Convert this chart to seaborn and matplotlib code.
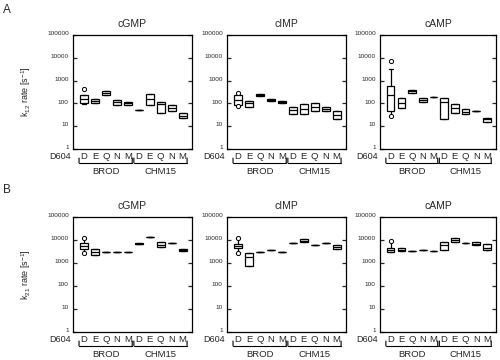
import numpy as np
import pandas as pd
import seaborn as sns
import matplotlib
matplotlib.use("Agg")
import matplotlib.pyplot as plt
from matplotlib.ticker import FixedLocator, FuncFormatter, NullLocator
from matplotlib.transforms import blended_transform_factory, ScaledTranslation
from matplotlib.lines import Line2D

# ---------------- data ----------------
groups = ["BROD", "CHM15"]
residues = ["D", "E", "Q", "N", "M"]
cats = [f"{g} {r}" for g in groups for r in residues]
tick_labels = residues * 2

# box statistics per category: (low whisker, q1, median, q3, high whisker)
k12_cGMP = [(91, 101, 151, 234, 234), (105, 105, 130, 155, 155), (234, 234, 290, 360, 360),
            (85, 85, 110, 145, 145), (85, 85, 100, 119, 119), (51, 51, 51, 51, 51),
            (85, 85, 150, 250, 250), (39, 39, 91, 115, 115), (45, 45, 60, 82, 82),
            (22, 22, 29, 37, 37)]
k12_cIMP = [(79, 85, 141, 234, 277), (71, 71, 101, 127, 127), (205, 205, 230, 260, 260),
            (123, 123, 136, 150, 150), (101, 101, 118, 131, 131), (33, 33, 49, 71, 71),
            (33, 33, 55, 91, 91), (48, 48, 70, 101, 101), (45, 45, 58, 71, 71),
            (20, 20, 32, 48, 48)]
k12_cAMP = [(28, 48, 226, 580, 3160), (61, 61, 107, 168, 168), (294, 294, 335, 375, 375),
            (119, 119, 140, 168, 168), (185, 185, 185, 185, 185), (21, 21, 111, 178, 178),
            (37, 37, 61, 94, 94), (34, 34, 43, 55, 55), (45, 45, 45, 45, 45),
            (16, 16, 20, 24, 24)]
k21_cGMP = [(2800, 3970, 5650, 7600, 11800), (2200, 2200, 3100, 4050, 4050),
            (3100, 3100, 3100, 3100, 3100), (3100, 3100, 3100, 3100, 3100),
            (3100, 3100, 3100, 3100, 3100), (6600, 6600, 7000, 7600, 7600),
            (13000, 13000, 13000, 13000, 13000), (4800, 4800, 6300, 8400, 8400),
            (7200, 7200, 7200, 7200, 7200), (3300, 3300, 3650, 4050, 4050)]
k21_cIMP = [(2650, 4400, 5500, 6600, 11800), (760, 760, 1900, 2800, 2800),
            (3100, 3100, 3100, 3100, 3100), (3700, 3700, 3700, 3700, 3700),
            (2900, 2900, 2900, 2900, 2900), (7200, 7200, 7200, 7200, 7200),
            (7900, 7900, 9500, 11000, 11000), (6100, 6100, 6100, 6100, 6100),
            (7200, 7200, 7200, 7200, 7200), (3970, 3970, 5000, 6100, 6100)]
k21_cAMP = [(3100, 3100, 3700, 4350, 9300), (3400, 3400, 3800, 4350, 4350),
            (3400, 3400, 3400, 3400, 3400), (3700, 3700, 3700, 3700, 3700),
            (3400, 3400, 3400, 3400, 3400), (3700, 3700, 6100, 8400, 8400),
            (7900, 7900, 10000, 11800, 11800), (7200, 7200, 7200, 7200, 7200),
            (6100, 6100, 7000, 7900, 7900), (3700, 3700, 4350, 6600, 6600)]

# individual outlying points (category, value)
out_k12_cGMP = [("BROD D", 415)]
out_k12_cIMP = [("BROD D", 300), ("BROD D", 80)]
out_k12_cAMP = [("BROD D", 7400), ("BROD D", 28)]
out_k21_cGMP = [("BROD D", 11800), ("BROD D", 2800)]
out_k21_cIMP = [("BROD D", 11800), ("BROD D", 2650)]
out_k21_cAMP = [("BROD D", 9300)]

titles = ["cGMP", "cIMP", "cAMP"]
ytick_vals = [1, 10, 100, 1000, 10000, 100000]

# ---------------- style ----------------
sns.set_style("ticks")
plt.rcParams["font.family"] = ["Liberation Sans", "DejaVu Sans"]
plt.rcParams["mathtext.fontset"] = "custom"
plt.rcParams["mathtext.rm"] = "Liberation Sans"
plt.rcParams["mathtext.it"] = "Liberation Sans:italic"

fig = plt.figure(figsize=(5, 3.6), dpi=100)
W, H = 500.0, 360.0

lefts = [73, 227, 380]
widths = [119, 119, 116]
rows = [(35, 149), (217, 332)]


def make_ax(px_left, px_w, px_top, px_bot):
    return fig.add_axes([px_left / W, 1 - px_bot / H, px_w / W, (px_bot - px_top) / H])


def draw_panel(ax, stats, outliers, title, ylabel=None):
    rows_ = [(c, v) for c, s in zip(cats, stats) for v in s]
    df = pd.DataFrame(rows_, columns=["cat", "val"])
    sns.boxplot(data=df, x="cat", y="val", order=cats, ax=ax, whis=(0, 100),
                width=0.7, color="white", linecolor="black", linewidth=0.9,
                showfliers=False, log_scale=True,
                medianprops=dict(color="black", linewidth=0.9))
    if outliers:
        od = pd.DataFrame(outliers, columns=["cat", "val"])
        sns.stripplot(data=od, x="cat", y="val", order=cats, ax=ax, jitter=False,
                      color="white", edgecolor="black", linewidth=0.7, size=3)
    ax.set_yscale("log")
    ax.set_ylim(1, 100000)
    ax.yaxis.set_major_locator(FixedLocator(ytick_vals))
    ax.yaxis.set_major_formatter(FuncFormatter(lambda v, p: f"{int(round(v))}"))
    ax.yaxis.set_minor_locator(NullLocator())
    ax.set_xlim(-1.0, 9.85)
    ax.set_xticks(range(len(cats)))
    ax.set_xticklabels(tick_labels)
    ax.tick_params(axis="y", direction="in", length=3, width=0.9, right=True,
                   labelsize=4.6, pad=3)
    ax.tick_params(axis="x", length=0, labelsize=6.8, pad=2)
    lift = ScaledTranslation(0, 1.3 / 72, fig.dpi_scale_trans)
    for lab in ax.get_yticklabels():
        lab.set_transform(lab.get_transform() + lift)
    for sp in ax.spines.values():
        sp.set_visible(True)
        sp.set_linewidth(0.9)
        sp.set_color("black")
    ax.set_xlabel("")
    ax.set_ylabel("")
    ax.set_title(title, fontsize=7.5, pad=6)
    if ylabel:
        ax.set_ylabel(ylabel, fontsize=6.5)
        ax.yaxis.set_label_coords(-0.335, 0.5)
    # "D604" row label
    ax.annotate("D604", xy=(0, 0), xycoords="axes fraction", xytext=(-1.5, -2.3),
                textcoords="offset points", ha="right", va="top", fontsize=6.5)
    # group brackets
    base = blended_transform_factory(ax.transData, ax.transAxes)
    tr_line = base + ScaledTranslation(0, -10 / 72, fig.dpi_scale_trans)
    tr_tip = base + ScaledTranslation(0, -6.5 / 72, fig.dpi_scale_trans)
    for gi, g in enumerate(groups):
        first = gi * len(residues)
        last = first + len(residues) - 1
        x0, x1 = first - 0.45, last + 0.4
        ax.add_line(Line2D([x0, x1], [0, 0], transform=tr_line,
                           color="black", lw=0.8, clip_on=False))
        for xe in (x0, x1):
            ax.annotate("", xy=(xe, 0), xycoords=tr_line, xytext=(xe, 0),
                        textcoords=tr_tip,
                        arrowprops=dict(arrowstyle="-", lw=0.8, color="black",
                                        shrinkA=0, shrinkB=0))
        ax.annotate(g, xy=((x0 + x1) / 2, 0), xycoords=base, xytext=(0, -16.5),
                    textcoords="offset points", ha="center", va="center",
                    fontsize=6.8)


panel_stats = [[k12_cGMP, k12_cIMP, k12_cAMP], [k21_cGMP, k21_cIMP, k21_cAMP]]
panel_out = [[out_k12_cGMP, out_k12_cIMP, out_k12_cAMP],
             [out_k21_cGMP, out_k21_cIMP, out_k21_cAMP]]
ylabels = ["k$_\\mathregular{12}$ rate [s$^\\mathregular{-1}$]",
           "k$_\\mathregular{21}$ rate [s$^\\mathregular{-1}$]"]

for r, (top, bot) in enumerate(rows):
    for c in range(3):
        ax = make_ax(lefts[c], widths[c], top, bot)
        draw_panel(ax, panel_stats[r][c], panel_out[r][c], titles[c],
                   ylabels[r] if c == 0 else None)

fig.text(3 / W, 1 - 4 / H, "A", fontsize=8.5, va="top", ha="left")
fig.text(3 / W, 1 - 184 / H, "B", fontsize=8.5, va="top", ha="left")

fig.savefig("out.png", dpi=100, facecolor="white")
